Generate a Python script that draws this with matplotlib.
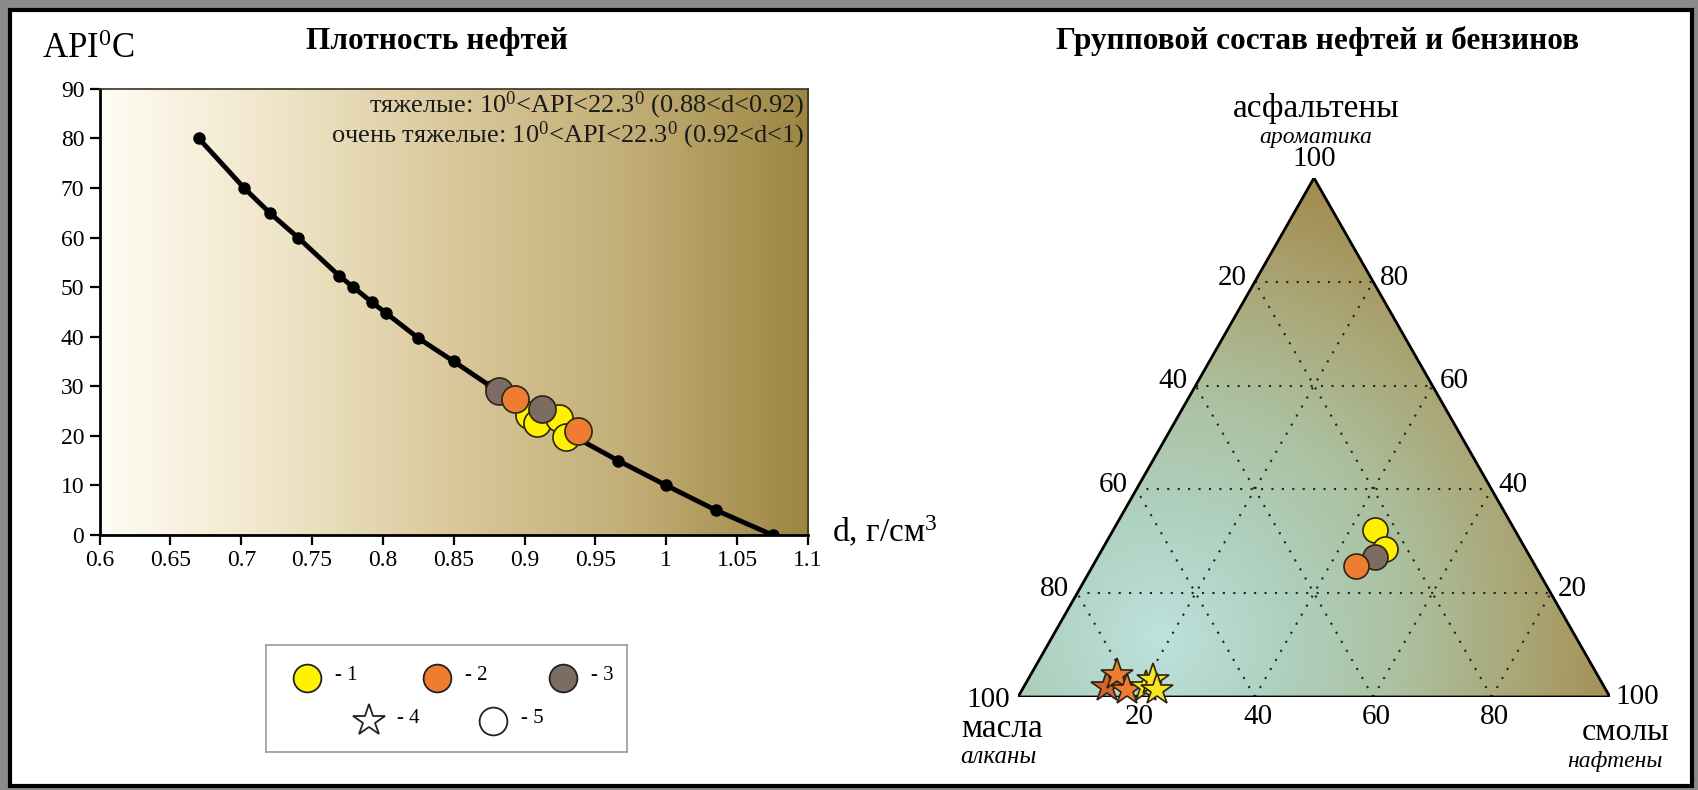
import numpy as np
import matplotlib
matplotlib.use("Agg")
import matplotlib.pyplot as plt
from matplotlib.colors import LinearSegmentedColormap
from matplotlib.patches import Polygon, Rectangle

plt.rcParams["font.family"] = ["Liberation Serif", "DejaVu Serif"]
plt.rcParams["mathtext.default"] = "regular"

W, H = 1698, 790

# ---- density curve (API vs d) ----
curve_d = [0.67, 0.702, 0.72, 0.74, 0.769, 0.779, 0.792, 0.802, 0.825, 0.85,
           0.876, 0.904, 0.934, 0.966, 1.0, 1.035, 1.075]
curve_api = [80, 70, 65, 60, 52.3, 50, 47, 44.8, 39.7, 35, 30, 25, 20, 15, 10, 5, 0]

# samples on the density plot
yellow_d = [0.903, 0.909, 0.924, 0.929]
yellow_api = [24.3, 22.5, 23.7, 19.8]
grey_d = [0.882, 0.912]
grey_api = [29.1, 25.4]
orange_d = [0.893, 0.938]
orange_api = [27.4, 21.0]

xticks = [0.6, 0.65, 0.7, 0.75, 0.8, 0.85, 0.9, 0.95, 1.0, 1.05, 1.1]
xticklabels = ["0.6", "0.65", "0.7", "0.75", "0.8", "0.85", "0.9", "0.95", "1", "1.05", "1.1"]
yticks = [0, 10, 20, 30, 40, 50, 60, 70, 80, 90]

# ---- ternary: масла / смолы / асфальтены, % ----
t_yellow_oil = [23.6, 23.7]
t_yellow_res = [44.3, 47.7]
t_yellow_asp = [32.1, 28.6]
t_grey_oil = [26.2]
t_grey_res = [46.8]
t_grey_asp = [27.0]
t_orange_oil = [30.3]
t_orange_res = [44.4]
t_orange_asp = [25.3]
# gasoline (stars): алканы / нафтены / ароматика
s_dark_oil = [84.0]
s_dark_res = [14.0]
s_dark_asp = [2.0]
s_orange_oil = [81.2, 81.0]
s_orange_res = [14.6, 17.7]
s_orange_asp = [4.2, 1.3]
s_yellow_oil = [77.3, 75.5, 75.9]
s_yellow_res = [20.7, 21.2, 22.7]
s_yellow_asp = [2.0, 3.3, 1.4]
tern_ticks = [20, 40, 60, 80]

YEL, ORA, GRY, DORA = "#fff200", "#ee7d31", "#7d6c62", "#d4652c"
EDGE = "#2b2414"


def fx(x):
    return x / W


def fy(y):
    return 1 - y / H


fig = plt.figure(figsize=(W / 100, H / 100), dpi=100, facecolor="#8a8a8a")
fig.patches.append(Rectangle((fx(10), fy(786)), (1692 - 10) / W, (786 - 10) / H,
                             transform=fig.transFigure, facecolor="white",
                             edgecolor="black", lw=3, zorder=-10))

# ================= left: density =================
ax = fig.add_axes([fx(99.6), fy(535), (808 - 99.6) / W, (535 - 88.8) / H])
ax.set_xlim(0.6, 1.1)
ax.set_ylim(0, 90)
cm_l = LinearSegmentedColormap.from_list("lg", ["#fefcf4", "#efe5c8", "#d9c89b",
                                                "#c2ae76", "#9c8642"])
grad = np.linspace(0, 1, 400).reshape(1, -1)
ax.imshow(grad, extent=[0.6, 1.1, 0, 90], aspect="auto", cmap=cm_l, zorder=0)

ax.plot(curve_d, curve_api, color="black", lw=3.5, marker="o", ms=8, zorder=2)
ax.plot(yellow_d, yellow_api, "o", ms=19.5, mfc=YEL, mec=EDGE, mew=1.2, zorder=3)
ax.plot(grey_d, grey_api, "o", ms=19.5, mfc=GRY, mec=EDGE, mew=1.2, zorder=3)
ax.plot(orange_d, orange_api, "o", ms=19.5, mfc=ORA, mec=EDGE, mew=1.2, zorder=3)

ax.set_xticks(xticks)
ax.set_xticklabels(xticklabels)
ax.set_yticks(yticks)
ax.tick_params(direction="out", length=7, width=1.6, labelsize=17, pad=4)
for s in ("left", "bottom"):
    ax.spines[s].set_linewidth(2)
for s in ("top", "right"):
    ax.spines[s].set_linewidth(1.2)
    ax.spines[s].set_color("#3a3220")

ax.text(0.995, 0.963, "тяжелые: 10$^0$<API<22.3$^0$ (0.88<d<0.92)", transform=ax.transAxes,
        ha="right", va="center", fontsize=19, color="#1a1a1a")
ax.text(0.995, 0.895, "очень тяжелые: 10$^0$<API<22.3$^0$ (0.92<d<1)", transform=ax.transAxes,
        ha="right", va="center", fontsize=19, color="#1a1a1a")

fig.text(fx(42), fy(50), "API$^0$C", fontsize=25, ha="left", va="center")
fig.text(fx(832), fy(532), "d, г/см$^3$", fontsize=24, ha="left", va="center")
fig.text(fx(437), fy(41), "Плотность нефтей", fontsize=22.5, fontweight="bold",
         ha="center", va="center")

# legend box
lax = fig.add_axes([fx(266), fy(752), (627 - 266) / W, (752 - 645) / H])
lax.set_xlim(266, 627)
lax.set_ylim(752, 645)
lax.set_xticks([])
lax.set_yticks([])
for s in lax.spines.values():
    s.set_color("#9a9a9a")
    s.set_linewidth(1.2)
leg_items = [(307, 678, "o", YEL, "- 1"), (437, 678, "o", ORA, "- 2"),
             (563, 678, "o", GRY, "- 3"), (369, 721, "*", "white", "- 4"),
             (493, 721, "o", "white", "- 5")]
for x, y, m, c, lab in leg_items:
    ms = 24 if m == "*" else 20
    lax.plot([x], [y], m, ms=ms, mfc=c, mec="#222222", mew=1.3)
    lax.text(x + 28, y - 2, lab, fontsize=15, ha="left", va="center")

# ================= right: ternary =================
SQ = 0.866


def tern(oil, res, asp):
    oil, res, asp = (np.asarray(v, float) for v in (oil, res, asp))
    tot = oil + res + asp
    b = res / tot * 100
    a = asp / tot * 100
    return b + a / 2, a * SQ


tx = fig.add_axes([fx(1018), fy(697), (1610 - 1018) / W, (697 - 178) / H])
tx.set_xlim(0, 100)
tx.set_ylim(0, 100 * SQ)
tx.axis("off")

tri = Polygon([(0, 0), (100, 0), (50, 100 * SQ)], closed=True, facecolor="none",
              edgecolor="black", lw=2, zorder=4)
tx.add_patch(tri)
gx, gy = np.meshgrid(np.linspace(0, 100, 400), np.linspace(0, 100 * SQ, 350))
r = np.hypot(gx - 23.8, gy - 9.7) / 82
cm_t = LinearSegmentedColormap.from_list("tg", ["#bde2dc", "#afd1c0", "#acc1a0",
                                                "#aaa676", "#a28a4b"])
im = tx.imshow(r, extent=[0, 100, 0, 100 * SQ], origin="lower", aspect="auto",
               cmap=cm_t, vmin=0, vmax=1, zorder=0)
im.set_clip_path(tri)

dots = dict(color="#222222", lw=1.5, ls=(0, (1, 4)), zorder=2)
for v in tern_ticks:
    # constant асфальтены
    x0, y0 = tern(100 - v, 0, v)
    x1, y1 = tern(0, 100 - v, v)
    tx.plot([x0, x1], [y0, y1], **dots)
    # constant смолы
    x0, y0 = tern(100 - v, v, 0)
    x1, y1 = tern(0, v, 100 - v)
    tx.plot([x0, x1], [y0, y1], **dots)
    # constant масла
    x0, y0 = tern(v, 100 - v, 0)
    x1, y1 = tern(v, 0, 100 - v)
    tx.plot([x0, x1], [y0, y1], **dots)

tk = dict(fontsize=21, clip_on=False, zorder=5)
for v in tern_ticks + [100]:
    # масла on the left edge
    x, y = tern(v, 0, 100 - v)
    tx.annotate(str(v), (x, y), xytext=(-6, -2), textcoords="offset points",
                ha="right", va="baseline" if v != 100 else "center", **tk)
    # асфальтены on the right edge
    x, y = tern(0, 100 - v, v)
    if v == 100:
        tx.annotate("100", (x, y), xytext=(0, 4), textcoords="offset points",
                    ha="center", va="bottom", **tk)
    else:
        tx.annotate(str(v), (x, y), xytext=(5, -2), textcoords="offset points",
                    ha="left", va="baseline", **tk)
    # смолы on the bottom
    x, y = tern(100 - v, v, 0)
    if v == 100:
        tx.annotate("100", (x, y), xytext=(4, 0), textcoords="offset points",
                    ha="left", va="center", **tk)
    else:
        tx.annotate(str(v), (x, y), xytext=(2, -5), textcoords="offset points",
                    ha="center", va="top", **tk)

mk = dict(mec=EDGE, mew=1.2, zorder=6, clip_on=False, ls="none")
tx.plot(*tern(t_yellow_oil, t_yellow_res, t_yellow_asp), "o", ms=18, mfc=YEL, **mk)
tx.plot(*tern(t_grey_oil, t_grey_res, t_grey_asp), "o", ms=18, mfc=GRY, **mk)
tx.plot(*tern(t_orange_oil, t_orange_res, t_orange_asp), "o", ms=18, mfc=ORA, **mk)
tx.plot(*tern(s_dark_oil, s_dark_res, s_dark_asp), "*", ms=24, mfc=DORA, **mk)
tx.plot(*tern(s_orange_oil, s_orange_res, s_orange_asp), "*", ms=24, mfc=ORA, **mk)
tx.plot(*tern(s_yellow_oil, s_yellow_res, s_yellow_asp), "*", ms=24, mfc="#f7e51e", **mk)

fig.text(fx(1318), fy(41), "Групповой состав нефтей и бензинов", fontsize=22.5,
         fontweight="bold", ha="center", va="center")
fig.text(fx(1316), fy(108), "асфальтены", fontsize=24, ha="center", va="center")
fig.text(fx(1316), fy(137), "ароматика", fontsize=17, style="italic",
         ha="center", va="center")
fig.text(fx(1002), fy(729), "масла", fontsize=24, ha="center", va="center")
fig.text(fx(998), fy(757), "алканы", fontsize=18, style="italic", ha="center", va="center")
fig.text(fx(1626), fy(733), "смолы", fontsize=23, ha="center", va="center")
fig.text(fx(1615), fy(762), "нафтены", fontsize=17, style="italic",
         ha="center", va="center")

fig.savefig("out.png", dpi=100, facecolor=fig.get_facecolor())
